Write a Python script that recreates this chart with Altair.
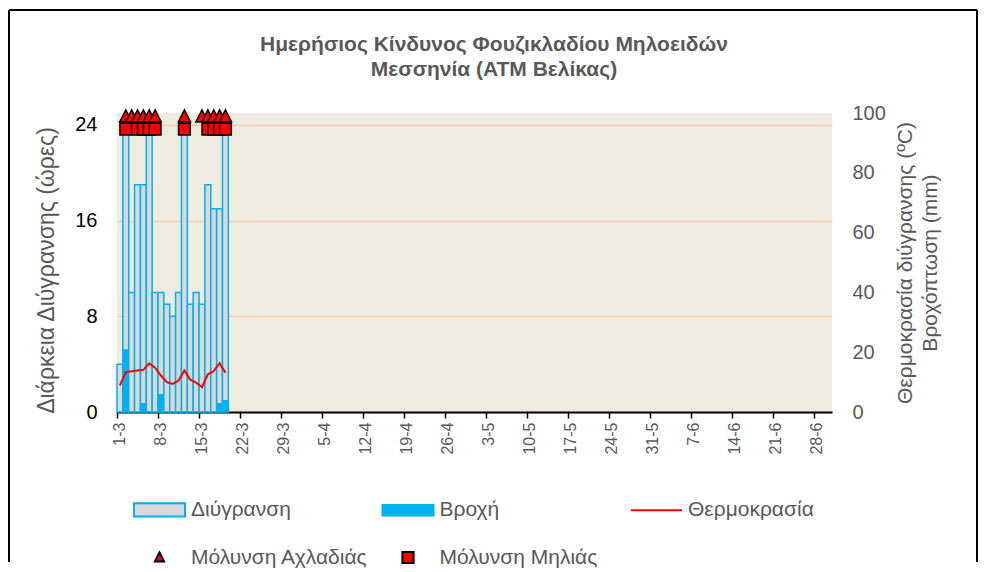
import altair as alt
import pandas as pd

# ---- data -------------------------------------------------------------
days = [d.strftime("%-d-%-m") for d in pd.date_range("2024-03-01", "2024-06-30")]
tick_labels = days[::7]

obs_days = days[:19]
wetness = [4, 24, 10, 19, 19, 24, 10, 10, 9, 8, 10, 24, 9, 10, 9, 19, 17, 17, 24]
rain = [0, 21, 0, 0, 3, 0, 0, 6, 0, 0, 0, 0, 0, 0, 0, 0, 0, 3, 4]
temperature = [8.9, 13.3, 13.6, 13.9, 14.1, 16.3, 14.8, 12.2, 10.0, 9.4, 10.5,
               13.9, 10.8, 9.8, 8.3, 12.6, 13.7, 16.3, 13.1]

pear_days = ["2-3", "3-3", "4-3", "5-3", "6-3", "7-3", "12-3",
             "15-3", "16-3", "17-3", "18-3", "19-3"]
apple_days = ["2-3", "4-3", "5-3", "6-3", "7-3", "12-3",
              "16-3", "17-3", "18-3", "19-3"]
pear_level = 24.7
apple_level = 23.65

series_names = ["Διύγρανση", "Βροχή", "Θερμοκρασία",
                "Μόλυνση Αχλαδιάς", "Μόλυνση Μηλιάς"]
title_lines = ["Ημερήσιος Κίνδυνος Φουζικλαδίου Μηλοειδών", "Μεσσηνία (ΑΤΜ Βελίκας)"]

df = pd.DataFrame({"day": obs_days, "wet": wetness, "rain": rain, "temp": temperature})
pear_df = pd.DataFrame({"day": pear_days, "series": series_names[3], "level": pear_level})
apple_df = pd.DataFrame({"day": apple_days, "series": series_names[4], "level": apple_level})
one_df = pd.DataFrame({"k": [0]})

# ---- styling ----------------------------------------------------------
FONT = "Liberation Sans"
GREY = "#595959"
CYAN = "#00B0F0"
W, H = 715, 299

shape_paths = [
    "M-1,-0.26H1V0.26H-1Z",
    "M-1,-0.21H1V0.21H-1Z",
    "M-1,0H1",
    "M0,-0.2L0.18,0.16L-0.18,0.16Z",
    "M-0.22,-0.22H0.22V0.22H-0.22Z",
]
fill_range = ["#D9D9D9", CYAN, "transparent", "#FF0000", "#FF0000"]
stroke_range = [CYAN, CYAN, "#FF0000", "#000000", "#000000"]

legend = alt.Legend(
    title=None, orient="none", legendX=16, legendY=370, columns=3,
    gridAlign="all", symbolSize=2601, symbolStrokeWidth=2, symbolOpacity=1,
    labelFont=FONT, labelFontSize=21, labelColor=GREY, labelOffset=5,
    labelLimit=400, columnPadding=10.5, rowPadding=10, direction="horizontal",
)

X = alt.X(
    "day:O",
    scale=alt.Scale(domain=days, paddingInner=0, paddingOuter=0),
    axis=alt.Axis(
        values=tick_labels, bandPosition=0, labelAngle=270, title=None,
        labelFont=FONT, labelFontSize=16, labelColor=GREY, labelPadding=4,
        tickColor="black", tickSize=6, tickWidth=1.5,
        domainColor="black", domainWidth=2, grid=False,
    ),
)

left_axis = alt.Axis(
    values=[0, 8, 16, 24], title="Διάρκεια Διύγρανσης (ώρες)",
    grid=True, gridColor="#F8CBAD", gridWidth=1.3,
    domain=False, ticks=False, labelPadding=20,
    labelColor="black", labelFont=FONT, labelFontSize=20,
    titleFont=FONT, titleFontSize=23, titleColor=GREY, titleFontWeight="normal",
    titlePadding=16, titleY=157,
)
right_axis = alt.Axis(
    values=[0, 20, 40, 60, 80, 100], orient="right",
    title=["Θερμοκρασία διύγρανσης (ºC)", "Βροχόπτωση (mm)"],
    titleAngle=270, grid=False, domain=False, ticks=False, labelPadding=20,
    labelColor=GREY, labelFont=FONT, labelFontSize=20,
    titleFont=FONT, titleFontSize=21, titleColor=GREY, titleFontWeight="normal",
    titlePadding=5, titleLineHeight=25,
)

y_left_scale = alt.Scale(domain=[0, 25])
y_right_scale = alt.Scale(domain=[0, 100])

wet_bars = alt.Chart(df).mark_bar(
    fill="#D9D9D9", stroke=CYAN, strokeWidth=1.5, opacity=1
).encode(x=X, y=alt.Y("wet:Q", scale=y_left_scale, axis=left_axis))


def marker_layer(data, size):
    return alt.Chart(data).mark_point(
        filled=True, size=size, strokeWidth=1.5, opacity=1
    ).encode(
        x=X,
        y=alt.Y("level:Q", scale=y_left_scale, axis=left_axis),
        shape=alt.Shape("series:N", scale=alt.Scale(domain=series_names, range=shape_paths), legend=legend),
        fill=alt.Fill("series:N", scale=alt.Scale(domain=series_names, range=fill_range), legend=legend),
        stroke=alt.Stroke("series:N", scale=alt.Scale(domain=series_names, range=stroke_range), legend=legend),
    )


pear_pts = marker_layer(pear_df, 4600)
apple_pts = marker_layer(apple_df, 2830)

rain_bars = alt.Chart(df).transform_filter("datum.rain > 0").mark_bar(
    fill=CYAN, opacity=1
).encode(x=X, y=alt.Y("rain:Q", scale=y_right_scale, axis=right_axis))

temp_line = alt.Chart(df).mark_line(color="#FF0000", strokeWidth=2).encode(
    x=X, y=alt.Y("temp:Q", scale=y_right_scale, axis=right_axis)
)

left_group = alt.layer(wet_bars, pear_pts, apple_pts)
right_group = alt.layer(rain_bars, temp_line)

# chart frame and title text (decoration)
rule = dict(color="black", strokeWidth=2)
frame_left = alt.Chart(one_df).mark_rule(**rule).encode(
    x=alt.value(-108), y=alt.value(-103), y2=alt.value(449))
frame_top = alt.Chart(one_df).mark_rule(**rule).encode(
    x=alt.value(-108), x2=alt.value(860), y=alt.value(-103))
frame_right = alt.Chart(one_df).mark_rule(**rule).encode(
    x=alt.value(860), y=alt.value(-103), y2=alt.value(449))
title_style = dict(font=FONT, fontSize=21, fontWeight="bold", color=GREY,
                   align="center", baseline="middle")
title1 = alt.Chart(one_df).mark_text(**title_style).encode(
    x=alt.value(377), y=alt.value(-68), text=alt.value(title_lines[0]))
title2 = alt.Chart(one_df).mark_text(**title_style).encode(
    x=alt.value(377), y=alt.value(-43), text=alt.value(title_lines[1]))
decor = alt.layer(frame_left, frame_top, frame_right, title1, title2)

chart = alt.layer(left_group, right_group, decor).resolve_scale(
    y="independent"
).properties(
    width=W, height=H,
    padding={"left": 0, "top": 1, "right": 0, "bottom": 0},
    background="white",
).configure_view(fill="#EEECE1", stroke=None)

chart.save("out.html", embed_options={"renderer": "svg", "actions": False})
